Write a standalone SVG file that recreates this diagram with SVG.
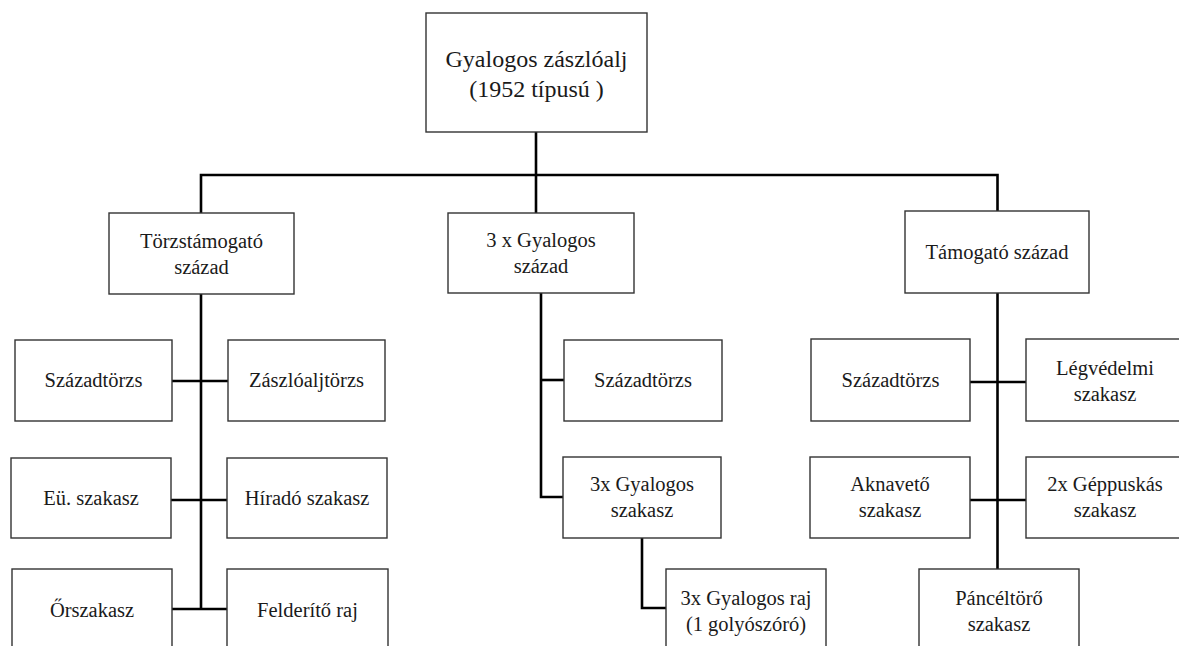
<svg xmlns="http://www.w3.org/2000/svg" width="1179" height="646" viewBox="0 0 1179 646">
<style>
.box{fill:#fff;stroke:#333;stroke-width:1.4}
.t{font-family:'Liberation Serif','Times New Roman','DejaVu Serif',serif;font-size:20.5px;fill:#1a1a1a;text-anchor:middle}
.tt{font-size:24px}
.c{fill:none;stroke:#000;stroke-width:2.6;stroke-linejoin:miter;stroke-linecap:butt}
</style>
<rect width="1179" height="646" fill="#fff"/>
<g id="connectors">
<path class="c" d="M201,213 V175 H997.5 V211"/>
<path class="c" d="M536,132 V213"/>
<path class="c" d="M201,294 V609"/>
<path class="c" d="M172,381 H228"/>
<path class="c" d="M171,500 H227"/>
<path class="c" d="M172,609 H227"/>
<path class="c" d="M541,293 V497 H563"/>
<path class="c" d="M541,380 H564"/>
<path class="c" d="M642,538 V608 H666"/>
<path class="c" d="M997.5,293 V569"/>
<path class="c" d="M970,382 H1026"/>
<path class="c" d="M970,500 H1026"/>
</g>
<g font-family="Liberation Serif, Times New Roman, DejaVu Serif, serif">
<g id="n-top"><rect class="box" x="426" y="13" width="221" height="119"/><text class="t tt" x="536.5" y="67">Gyalogos zászlóalj</text><text class="t tt" x="536.5" y="97">(1952 típusú )</text></g>
<g id="n-torzstamogato"><rect class="box" x="109" y="213" width="185" height="81"/><text class="t" x="201.5" y="248">Törzstámogató</text><text class="t" x="201.5" y="274">század</text></g>
<g id="n-gyalogos-szazad"><rect class="box" x="448" y="213" width="186" height="80"/><text class="t" x="541" y="247">3 x Gyalogos</text><text class="t" x="541" y="273">század</text></g>
<g id="n-tamogato"><rect class="box" x="905" y="211" width="184" height="82"/><text class="t" x="997" y="259">Támogató század</text></g>
<g id="n-l-szazadtorzs"><rect class="box" x="15" y="340" width="157" height="81"/><text class="t" x="93.5" y="387">Századtörzs</text></g>
<g id="n-l-zaszloaljtorzs"><rect class="box" x="228" y="340" width="157" height="81"/><text class="t" x="306.5" y="387">Zászlóaljtörzs</text></g>
<g id="n-l-eu"><rect class="box" x="11" y="458" width="160" height="80"/><text class="t" x="91" y="505">Eü. szakasz</text></g>
<g id="n-l-hirado"><rect class="box" x="227" y="458" width="160" height="80"/><text class="t" x="307" y="505">Híradó szakasz</text></g>
<g id="n-l-orszakasz"><rect class="box" x="12" y="569" width="160" height="90"/><text class="t" x="92" y="617">Őrszakasz</text></g>
<g id="n-l-felderito"><rect class="box" x="227" y="569" width="161" height="90"/><text class="t" x="307.5" y="617">Felderítő raj</text></g>
<g id="n-m-szazadtorzs"><rect class="box" x="564" y="340" width="158" height="81"/><text class="t" x="643" y="387">Századtörzs</text></g>
<g id="n-m-szakasz"><rect class="box" x="563" y="457" width="158" height="81"/><text class="t" x="642" y="491">3x Gyalogos</text><text class="t" x="642" y="517">szakasz</text></g>
<g id="n-m-raj"><rect class="box" x="666" y="569" width="160" height="90"/><text class="t" x="746" y="605">3x Gyalogos raj</text><text class="t" x="746" y="631">(1 golyószóró)</text></g>
<g id="n-r-szazadtorzs"><rect class="box" x="811" y="339" width="159" height="82"/><text class="t" x="890.5" y="387">Századtörzs</text></g>
<g id="n-r-legvedelmi"><rect class="box" x="1026" y="339" width="158" height="82"/><text class="t" x="1105" y="375">Légvédelmi</text><text class="t" x="1105" y="401">szakasz</text></g>
<g id="n-r-aknaveto"><rect class="box" x="810" y="457" width="160" height="81"/><text class="t" x="890" y="491">Aknavető</text><text class="t" x="890" y="517">szakasz</text></g>
<g id="n-r-geppuskas"><rect class="box" x="1026" y="457" width="158" height="81"/><text class="t" x="1105" y="491">2x Géppuskás</text><text class="t" x="1105" y="517">szakasz</text></g>
<g id="n-r-panceltoro"><rect class="box" x="919" y="569" width="160" height="90"/><text class="t" x="999" y="605">Páncéltörő</text><text class="t" x="999" y="631">szakasz</text></g>
</g>
</svg>
